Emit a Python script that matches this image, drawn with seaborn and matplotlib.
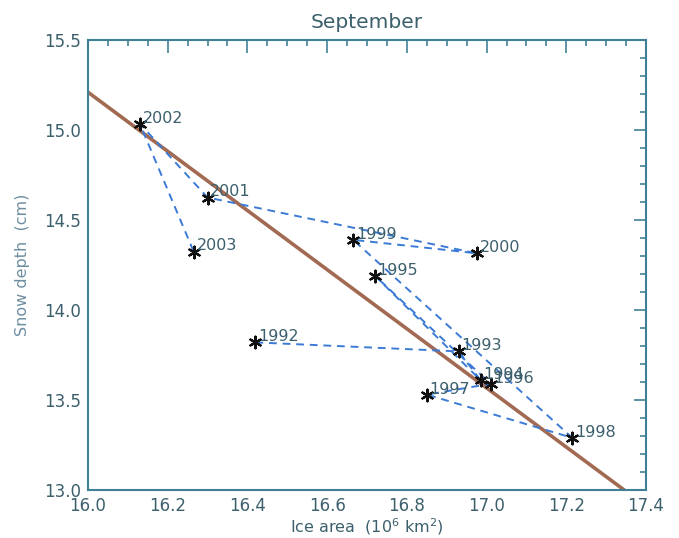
import matplotlib
matplotlib.use("Agg")
import matplotlib.pyplot as plt
import seaborn as sns
import pandas as pd
from matplotlib.ticker import MultipleLocator

# ---- data ----
years = ["1992", "1993", "1994", "1995", "1996", "1997", "1998", "1999", "2000", "2001", "2002", "2003"]
ice_area = [16.42, 16.93, 16.985, 16.72, 17.01, 16.85, 17.215, 16.665, 16.975, 16.30, 16.13, 16.265]
snow_depth = [13.82, 13.77, 13.61, 14.19, 13.59, 13.53, 13.29, 14.39, 14.315, 14.625, 15.035, 14.325]
fit_x = [16.0, 17.4]
fit_y = [15.21, 12.91]

x_ticks = [16.0, 16.2, 16.4, 16.6, 16.8, 17.0, 17.2, 17.4]
y_ticks = [13.0, 13.5, 14.0, 14.5, 15.0, 15.5]

df = pd.DataFrame({"year": years, "ice": ice_area, "snow": snow_depth})
fit_df = pd.DataFrame({"x": fit_x, "y": fit_y})

sns.set_theme(style="white")
plt.rcParams["font.family"] = ["DejaVu Sans"]

frame_col = "#3f8096"
text_col = "#3c5f6c"

fig = plt.figure(figsize=(6.79, 5.38), dpi=100)
ax = fig.add_axes([88 / 679, 1 - 490 / 538, (646 - 88) / 679, (490 - 40) / 538])
ax.set_facecolor("white")

# regression line
sns.lineplot(data=fit_df, x="x", y="y", ax=ax, color="#a26a52", lw=2.6,
             sort=False, estimator=None, zorder=2)
# dashed chronological path
sns.lineplot(data=df, x="ice", y="snow", ax=ax, color="#3b7bd6", lw=1.4,
             sort=False, estimator=None, zorder=3, dashes=False)
ax.lines[-1].set_linestyle((0, (4, 3)))
# asterisk markers
sns.scatterplot(data=df, x="ice", y="snow", ax=ax, marker=(6, 2, 0), s=70,
                color="#111111", linewidth=1.6, edgecolor="#111111", zorder=4)

for yr, xv, yv in zip(years, ice_area, snow_depth):
    ax.annotate(yr, (xv, yv), xytext=(2, 4), textcoords="offset points",
                ha="left", va="center", fontsize=11.5, color=text_col, zorder=5)

ax.set_xlim(16.0, 17.4)
ax.set_ylim(13.0, 15.5)
ax.set_xticks(x_ticks)
ax.set_yticks(y_ticks)
ax.set_xticklabels([f"{v:.1f}" for v in x_ticks])
ax.set_yticklabels([f"{v:.1f}" for v in y_ticks])
ax.xaxis.set_minor_locator(MultipleLocator(0.05))
ax.yaxis.set_minor_locator(MultipleLocator(0.1))
ax.tick_params(which="both", direction="in", top=True, right=True,
               color=frame_col, width=1.2, labelsize=12, labelcolor=text_col)
ax.tick_params(which="major", length=9)
ax.tick_params(axis="x", which="major", pad=5)
ax.tick_params(axis="y", which="major", pad=5)
ax.tick_params(which="minor", length=4.5)
for sp in ax.spines.values():
    sp.set_color(frame_col)
    sp.set_linewidth(1.5)

ax.set_xlabel("Ice area  (10$^6$ km$^2$)", fontsize=11.5, color=text_col, labelpad=1)
ax.set_ylabel("Snow depth  (cm)", fontsize=11.5, color="#6d8ea0", labelpad=10)
ax.set_title("September", fontsize=14.5, color=text_col, pad=9)

fig.savefig("out.png", dpi=100, facecolor="white")
